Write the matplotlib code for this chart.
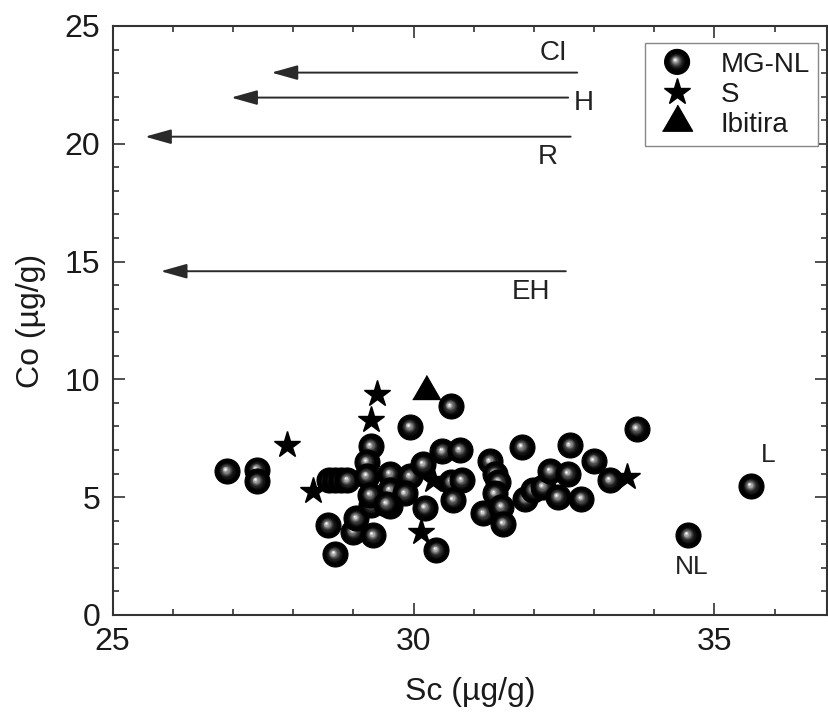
import matplotlib
matplotlib.use("Agg")
import matplotlib.pyplot as plt
from matplotlib.patches import Circle
from matplotlib.transforms import ScaledTranslation
from matplotlib.ticker import MultipleLocator
from matplotlib.lines import Line2D

plt.rcParams['font.family'] = ['Liberation Sans', 'DejaVu Sans']

# ---------------- data ----------------
mgnl_sc = [26.90, 27.40, 27.40, 28.60, 28.70, 28.80, 28.90, 28.58, 28.69, 29.00,
           29.05, 30.62, 29.94, 29.29, 29.22, 29.22, 29.61, 29.94, 30.16, 30.48,
           30.77, 31.27, 30.63, 30.80, 30.66, 29.61, 29.86, 29.30, 29.61, 30.19,
           29.33, 30.38, 31.16, 33.71, 31.80, 32.60, 33.00, 33.26, 31.35, 31.41,
           31.35, 31.46, 31.49, 31.86, 31.99, 32.15, 32.27, 32.57, 32.40, 32.79,
           35.61, 34.56, 29.28, 29.55]
mgnl_co = [6.11, 6.17, 5.68, 5.72, 5.72, 5.72, 5.72, 3.81, 2.58, 3.53,
           4.10, 8.85, 7.98, 7.16, 6.50, 5.90, 5.98, 5.89, 6.40, 6.95,
           6.99, 6.52, 5.65, 5.72, 4.90, 5.30, 5.16, 4.66, 4.62, 4.55,
           3.39, 2.75, 4.31, 7.91, 7.13, 7.20, 6.55, 5.72, 6.00, 5.65,
           5.16, 4.59, 3.88, 4.92, 5.30, 5.44, 6.10, 6.00, 5.01, 4.94,
           5.47, 3.39, 5.10, 4.73]

s_sc = [27.90, 28.33, 29.40, 29.30, 30.33, 30.13, 33.54]
s_co = [7.20, 5.27, 9.36, 8.26, 5.72, 3.53, 5.86]

ibitira_sc = [30.21]
ibitira_co = [9.52]

arrow_labels = ['CI', 'H', 'R', 'EH']
arrow_co = [23.02, 21.96, 20.30, 14.59]
arrow_sc_start = [32.72, 32.57, 32.61, 32.53]
arrow_sc_end = [27.64, 26.97, 25.54, 25.80]
arrow_label_sc = [32.32, 32.83, 32.23, 31.95]
arrow_label_co = [23.87, 21.71, 19.45, 13.70]

point_labels = ['L', 'NL']
point_label_sc = [35.89, 34.62]
point_label_co = [6.78, 2.05]

legend_labels = ['MG-NL', 'S', 'Ibitira']
x_ticks = [25, 30, 35]
y_ticks = [0, 5, 10, 15, 20, 25]

# ---------------- figure ----------------
fig = plt.figure(figsize=(8.29, 7.23), dpi=100)
ax = fig.add_axes([0.1358, 0.1494, 0.8618, 0.8147])
ax.set_xlim(25, 36.87)
ax.set_ylim(0, 25)

SPH = 18.0  # sphere marker size (pt)
N_LAYERS = 10


def sphere_layers(size):
    layers = []
    for k in range(1, N_LAYERS + 1):
        t = k / N_LAYERS
        r = 0.70 * size * (1 - t) + 0.06 * size
        g = min(1.0, 0.02 + 0.98 * t ** 1.9)
        off = 0.08 * size * t
        layers.append((r, g, off))
    return layers


def draw_sphere(ax, x, y, size, z):
    ax.plot([x], [y], ls='none', marker='o', ms=size, mfc='black', mec='black',
            mew=0.8, zorder=z)
    for (r, g, off) in sphere_layers(size):
        tr = ax.transData + ScaledTranslation(-off / 72.0, off / 72.0, fig.dpi_scale_trans)
        ax.plot([x], [y], ls='none', marker='o', ms=r, mfc=(g, g, g), mec='none',
                transform=tr, zorder=z + 0.001)


for i, (xv, yv) in enumerate(zip(mgnl_sc, mgnl_co)):
    draw_sphere(ax, xv, yv, SPH, 3 + i * 0.01)

ax.plot(s_sc, s_co, ls='none', marker='*', ms=20, color='black', zorder=4)

tri = [(-1, -0.5774), (1, -0.5774), (0, 1.1547)]
ax.plot(ibitira_sc, ibitira_co, ls='none', marker=tri, ms=23, color='black', zorder=4)

# arrows
for lab, yv, xs, xe, lx, ly in zip(arrow_labels, arrow_co, arrow_sc_start, arrow_sc_end,
                                   arrow_label_sc, arrow_label_co):
    ax.annotate('', xy=(xe, yv), xytext=(xs, yv),
                arrowprops=dict(arrowstyle='-|>,head_length=1.6,head_width=0.45',
                                color='#2a2a2a', lw=1.4, shrinkA=0, shrinkB=0),
                zorder=2)
    ax.text(lx, ly, lab, fontsize=20, ha='center', va='center', color='#222222')

for lab, lx, ly in zip(point_labels, point_label_sc, point_label_co):
    ax.text(lx, ly, lab, fontsize=19, ha='center', va='center', color='#222222')

# axes styling
ax.xaxis.set_major_locator(MultipleLocator(5))
ax.xaxis.set_minor_locator(MultipleLocator(1))
ax.yaxis.set_major_locator(MultipleLocator(5))
ax.yaxis.set_minor_locator(MultipleLocator(1))
ax.set_xticks(x_ticks)
ax.set_yticks(y_ticks)
ax.tick_params(which='both', direction='in', top=True, right=True, color='#333333',
               width=1.2, labelsize=23, labelcolor='#1a1a1a')
ax.tick_params(which='major', length=8.5, pad=9)
ax.tick_params(which='minor', length=4.5)
for sp in ax.spines.values():
    sp.set_color('#333333')
    sp.set_linewidth(1.5)

ax.set_xlabel('Sc (µg/g)', fontsize=23, labelpad=14, color='#1a1a1a')
ax.set_ylabel('Co (µg/g)', fontsize=23, labelpad=13, color='#1a1a1a')


# legend
class SphereHandler:
    def legend_artist(self, legend, orig_handle, fontsize, handlebox):
        cx = handlebox.xdescent + handlebox.width / 2
        cy = handlebox.ydescent + handlebox.height / 2
        base = Circle((cx, cy), SPH / 2, facecolor='black', edgecolor='black', lw=0.8)
        handlebox.add_artist(base)
        for (r, g, off) in sphere_layers(SPH):
            c = Circle((cx - off, cy + off), r / 2, facecolor=(g, g, g), edgecolor='none')
            handlebox.add_artist(c)
        return base


class SphereProxy:
    pass


sph_proxy = SphereProxy()
star_h = Line2D([], [], ls='none', marker='*', ms=20, color='black')
tri_h = Line2D([], [], ls='none', marker=tri, ms=25, color='black')
leg = ax.legend([sph_proxy, star_h, tri_h], legend_labels,
                handler_map={SphereProxy: SphereHandler()},
                loc='upper right', bbox_to_anchor=(0.9874, 0.9706),
                fontsize=20, frameon=True, fancybox=False, framealpha=1,
                edgecolor='#888888', borderpad=0.3, labelspacing=0.15,
                handlelength=1.7, handletextpad=0.71, borderaxespad=0)
leg.get_frame().set_linewidth(1.0)
for t in leg.get_texts():
    t.set_color('#1a1a1a')

fig.savefig('out.png', dpi=100)
